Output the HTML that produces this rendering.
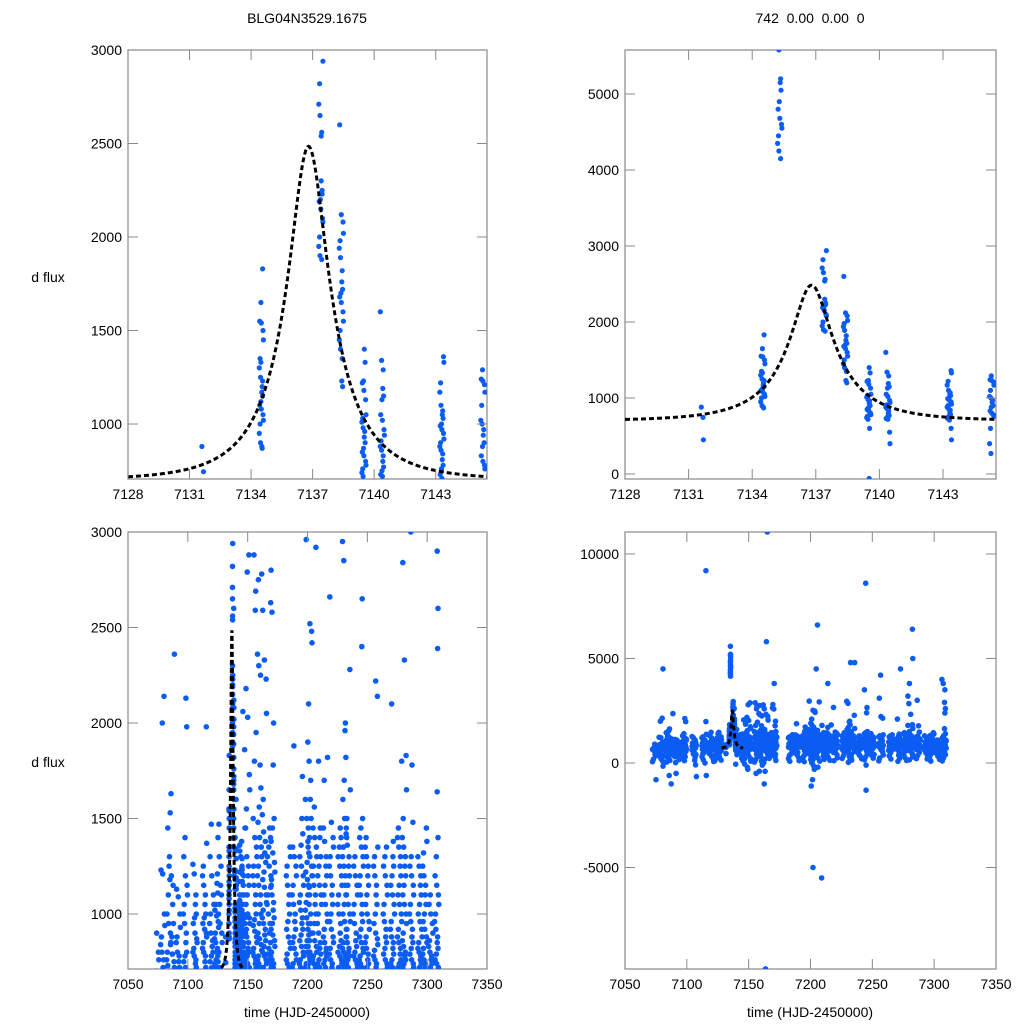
<!DOCTYPE html>
<html><head><meta charset="utf-8">
<style>
html,body{margin:0;padding:0;background:#fff;width:1024px;height:1024px;overflow:hidden;}
svg{display:block;font-family:"Liberation Sans",sans-serif;}
</style></head>
<body>
<svg id="fig" width="1024" height="1024" viewBox="0 0 1024 1024" xmlns="http://www.w3.org/2000/svg">
<text x="307" y="23" font-size="14" text-anchor="middle">BLG04N3529.1675</text>
<text x="810" y="23" font-size="14" text-anchor="middle" xml:space="preserve">742  0.00  0.00  0</text>
<text x="48" y="282" font-size="14" text-anchor="middle">d flux</text>
<text x="48" y="767" font-size="14" text-anchor="middle">d flux</text>
<text x="307" y="1017" font-size="14" text-anchor="middle">time (HJD-2450000)</text>
<text x="810" y="1017" font-size="14" text-anchor="middle">time (HJD-2450000)</text>
</svg>
<script>
// ---- event-window observations (night time, flux values) ----
const eventNightTimes = [7131.6, 7134.5, 7135.3, 7137.4, 7138.4, 7139.5, 7140.4, 7143.3, 7145.3];
const eventNightFlux = [
 "880 745 450",
 "1830 1650 1550 1540 1500 1450 1350 1300 1250 1200 1170 1150 1120 1100 1080 1050 1020 1000 950 900 870 880 1230 1330",
 "5580 5200 5150 5050 4900 4800 4680 4600 4550 4450 4350 4250 4150",
 "2940 2820 2710 2650 2560 2540 2250 2200 2190 2150 2100 2080 2000 1950 1900 1880 2300 2230",
 "2600 2120 2080 2020 1980 1940 1890 1820 1760 1720 1700 1680 1650 1600 1550 1500 1450 1400 1350 1230 1200",
 "1400 1330 1230 1220 1180 1130 1050 1030 1010 980 960 930 900 870 850 830 800 780 760 740 720 600 -60",
 "1600 1340 1290 1190 1150 1130 1050 1020 970 940 910 880 860 830 800 770 750 730 720 550 400",
 "1360 1330 1220 1170 1100 1070 1050 1030 1000 990 970 950 920 900 880 860 840 810 780 760 730 710 600 450",
 "1290 1240 1230 1210 1170 1100 1020 1000 970 940 900 880 830 800 780 760 600 400 270"
];
// ---- full-season observations ----
const seasonNightTimes = [7074,7079,7084,7087,7092,7098,7106,7114,7120,7124,7127,7146,7150,7156,7160,7164,7168,7171,7184,7189,7195,7200,7202,7206,7210,7215,7220,7227,7231,7234,7240,7245,7250,7257,7265,7271,7277,7281,7287,7294,7298,7303,7308];
const seasonNightFlux = [
 "900 800 760 700 650 600 500 400 -800",
 "2140 2000 1230 1210 1000 940 880 840 800 760 720 650 600 550 450 300 4500",
 "1450 1300 1250 1180 1100 1000 950 900 850 800 760 730 700 650 600 500 400 300 200 -600",
 "2360 1630 1530 1200 1150 1050 950 880 840 790 750 720 680 600 500 400 -1000",
 "1130 1090 1000 930 880 850 800 780 750 720 700 650 600 550 500 450 300 -500",
 "2130 1980 1400 1300 1200 1150 1100 1050 1000 950 900 850 800 780 750 720 700 650 600 500 400 300",
 "1260 1210 1100 1050 1000 980 950 900 870 850 820 800 780 760 740 720 700 600 500 400 -650",
 "1980 1370 1250 1200 1150 1100 1050 1000 980 950 920 900 880 850 820 800 780 750 720 700 650 500 9200 -600",
 "1470 1300 1200 1100 1050 1000 950 900 860 830 800 780 750 720 700 650 550 450",
 "1210 1160 1110 1050 1020 990 960 930 900 870 850 820 800 780 760 740 720 700 600 400",
 "1470 1400 1300 1250 1150 1100 1050 1000 950 900 850 800 750 720 700 650 600 500",
 "2060 1860 1450 1380 1300 1250 1200 1150 1100 1050 1020 1000 980 950 920 900 880 850 830 800 780 760 740 720 700 650 600 500 200",
 "2880 2790 2180 2030 1730 1650 1550 1450 1300 1250 1200 1150 1100 1050 1000 980 950 920 900 880 850 820 800 780 760 740 720 700 600 500 -300",
 "2880 2690 2590 1950 1800 1500 1400 1350 1300 1250 1200 1150 1100 1050 1000 970 940 910 880 850 820 800 780 760 740 720 700 650 -500",
 "2780 2750 2360 2300 2250 1780 1660 1560 1480 1400 1350 1300 1250 1200 1150 1100 1050 1000 950 900 870 840 810 780 760 740 720 700 600 400 -400",
 "2590 2330 2230 2050 1600 1520 1430 1380 1320 1270 1220 1180 1140 1100 1060 1020 980 950 920 890 860 830 800 780 760 740 720 700 650 550 5800 11050 -9850 -1000",
 "1450 1400 1350 1300 1250 1200 1150 1100 1050 1000 950 900 850 820 790 760 740 720 700 650",
 "2630 2580 2000 1780 1500 1450 1380 1320 1270 1220 1180 1140 1100 1060 1020 980 950 920 890 860 830 800 780 760 740 720 700 3800 2800",
 "1350 1300 1250 1200 1150 1100 1050 1000 960 920 880 850 820 790 760 740 720 700 600 400",
 "1880 1350 1300 1250 1200 1150 1100 1050 1000 960 920 880 850 820 790 760 740 720 700 500",
 "1720 1500 1420 1360 1300 1250 1200 1150 1100 1060 1020 980 950 920 890 860 830 800 780 760 740 720 700 600 450",
 "2960 1600 1500 1450 1380 1320 1270 1220 1180 1140 1100 1060 1020 980 950 920 890 860 830 800 780 760 740 720 700 650 550 300",
 "2520 2480 2420 2100 1900 1800 1700 1600 1500 1400 1350 1300 1250 1200 1150 1100 1050 1000 950 900 860 830 800 780 760 740 720 700 500 200 -300 -800 -1100 -5000",
 "2920 1560 1450 1400 1350 1300 1250 1200 1150 1100 1050 1000 950 900 860 830 800 780 760 740 720 700 600 6600 4500 -200",
 "1800 1450 1400 1300 1250 1200 1150 1100 1050 1000 950 900 850 820 790 760 740 720 700 400 -5500",
 "1820 1700 1450 1380 1300 1250 1200 1150 1100 1050 1000 960 920 880 850 820 800 780 760 740 720 700 600 3800",
 "2660 1480 1400 1350 1300 1250 1200 1150 1100 1050 1000 960 920 880 850 820 790 760 740 720 700 650 500",
 "1450 1400 1350 1300 1250 1200 1150 1100 1050 1000 950 900 860 830 800 780 760 740 720 700 600",
 "2950 2850 2000 1960 1820 1700 1600 1500 1450 1400 1350 1300 1250 1200 1150 1100 1050 1000 960 920 880 850 820 800 780 760 740 720 700 500 4800",
 "2280 1650 1500 1420 1360 1300 1250 1200 1150 1100 1050 1000 960 920 880 850 820 800 780 760 740 720 700 4800 300",
 "1300 1250 1200 1150 1100 1050 1000 950 900 860 830 800 780 760 740 720 700 600 400",
 "2650 2400 1500 1450 1400 1350 1300 1250 1200 1150 1100 1050 1000 960 920 880 850 820 800 780 760 740 720 700 550 8600 3500 -1300",
 "1400 1350 1300 1250 1200 1150 1100 1050 1000 960 920 880 850 820 790 760 740 720 700 650 400",
 "2220 2140 1350 1300 1250 1200 1150 1100 1050 1000 950 900 870 840 810 780 760 740 720 700 4200 3100",
 "1350 1300 1250 1200 1150 1100 1050 1000 960 920 880 850 820 790 760 740 720 700 600",
 "2100 1380 1300 1250 1200 1150 1100 1050 1000 960 920 880 850 820 790 760 740 720 700 4500",
 "1800 1450 1400 1350 1300 1250 1200 1150 1100 1050 1000 960 920 880 850 820 790 760 740 720 700 600 3200",
 "2840 2330 1830 1650 1500 1400 1350 1300 1250 1200 1150 1100 1050 1000 950 900 860 830 800 780 760 740 720 700 6400 5000 3800",
 "1780 1480 1300 1250 1200 1150 1100 1050 1000 960 920 880 850 820 790 760 740 720 700 650 3000",
 "1300 1250 1200 1150 1100 1050 1000 960 920 880 850 820 800 780 760 740 720 700 500",
 "1450 1380 1320 1250 1200 1150 1100 1050 1000 960 920 880 850 820 790 760 740 720 700 600",
 "1100 1050 1000 950 900 860 830 800 780 760 740 720 700 650 600 400",
 "2390 1640 1400 1300 1200 1150 1100 1050 1000 960 920 880 850 820 790 760 740 720 700 600 4000 3800 3500 2900 2600"
];
// faint-side measurements per night (below the zoomed window, visible in full range)
const seasonLowFlux = [
 "620 480 350 180 60", "640 520 380 210 90 -150", "600 450 330 150 40", "660 510 290 120",
 "630 470 310 160 20", "650 540 420 260 110", "610 430 270 130 -90", "640 560 440 300 150 0",
 "620 470 320 190 70", "650 520 380 220 100", "600 460 300 140", "660 580 470 350 230 110 -50",
 "650 560 460 340 220 90 -200", "640 540 420 300 170 40", "660 570 450 330 210 80 -100", "650 550 430 310 180 20 -400",
 "620 500 360 220", "640 540 410 270 120", "630 490 360 210 80", "650 530 400 260 110",
 "660 570 460 340 200 60", "650 540 420 290 150 0", "660 560 440 320 180 40 -150", "640 520 380 240 90",
 "620 480 330 170", "650 540 410 270 130", "640 520 390 250 110", "630 500 360 220",
 "660 560 440 310 170 30", "650 540 410 280 140", "620 490 350 200", "660 570 440 300 150 -100",
 "630 500 370 230", "640 520 380 240 100", "620 480 340 190", "640 510 370 220 80",
 "650 530 400 260 120", "660 560 430 290 150", "630 500 360 210", "620 480 340 190",
 "640 510 380 230 90", "610 470 320 170", "650 530 400 250 100"
];
// ---- microlensing fit parameters ----
const fitT0 = [7136.8];
const fitTE = [3.3];
const fitU0 = [0.3];
const fitBase = [700];
const fitFs = [730];
const fitRange = [7128, 7145.5];
// ---- tick labels ----
const topXTicks = [7128, 7131, 7134, 7137, 7140, 7143];
const topLeftYTicks = [1000, 1500, 2000, 2500, 3000];
const topRightYTicks = [0, 1000, 2000, 3000, 4000, 5000];
const botXTicks = [7050, 7100, 7150, 7200, 7250, 7300, 7350];
const botLeftYTicks = [1000, 1500, 2000, 2500, 3000];
const botRightYTicks = [-5000, 0, 5000, 10000];

const NS = "http://www.w3.org/2000/svg";
const svg = document.getElementById('fig');
function mk(tag, attrs, parent) {
  const e = document.createElementNS(NS, tag);
  for (const k in attrs) e.setAttribute(k, attrs[k]);
  (parent || svg).appendChild(e);
  return e;
}
const jit = [0, 3, -2, 5, -4, 1, -5, 4, -1, 2, -3];
function expand(times, fluxes, wide) {
  const pts = [];
  times.forEach((t, i) => {
    fluxes[i].trim().split(/\s+/).map(Number).forEach((f, j) => {
      pts.push([t + jit[(j * 7 + i) % 11] * (wide ? 0.35 : 0.02), f]);
    });
  });
  return pts;
}
const eventPts = expand(eventNightTimes, eventNightFlux, false);
const seasonPts = expand(seasonNightTimes, seasonNightFlux, true)
  .concat(expand(seasonNightTimes, seasonLowFlux, true)).concat(eventPts);

function model(t) {
  const d = (t - fitT0[0]) / fitTE[0];
  const u = Math.sqrt(fitU0[0] * fitU0[0] + d * d);
  const A = (u * u + 2) / (u * Math.sqrt(u * u + 4));
  return fitBase[0] + fitFs[0] * (A - 1);
}

function panel(name, box, xr, yr, xt, yt, pts, r) {
  const [x0, y0, x1, y1] = box;
  const sx = v => x0 + (v - xr[0]) / (xr[1] - xr[0]) * (x1 - x0);
  const sy = v => y1 - (v - yr[0]) / (yr[1] - yr[0]) * (y1 - y0);
  const g = mk('g', {});
  
  
  const cp = mk('clipPath', {id: name + '-clip'}, g);
  mk('rect', {x: x0, y: y0, width: x1 - x0, height: y1 - y0}, cp);
  const frame = mk('rect', {x: x0, y: y0, width: x1 - x0, height: y1 - y0, fill: 'none', stroke: '#888', 'stroke-width': 1.2}, g);
  
  
  const pg = mk('g', {'clip-path': 'url(#' + name + '-clip)'}, g);
  pts.forEach(p => {
    const c = mk('circle', {cx: sx(p[0]).toFixed(1), cy: sy(p[1]).toFixed(1), r: r, fill: '#0b5cf2'}, pg);
    
    
  });
  let d = '';
  for (let t = fitRange[0]; t <= fitRange[1] + 1e-9; t += 0.05) {
    d += (d ? 'L' : 'M') + sx(t).toFixed(2) + ',' + sy(model(t)).toFixed(2);
  }
  const path = mk('path', {d: d, fill: 'none', stroke: '#000', 'stroke-width': 3, 'stroke-dasharray': '5,3'}, pg);
  
  
  xt.forEach(v => {
    const x = sx(v);
    mk('line', {x1: x, y1: y1, x2: x, y2: y1 - 10, stroke: '#888'}, g);
    mk('line', {x1: x, y1: y0, x2: x, y2: y0 + 10, stroke: '#888'}, g);
    const tx = mk('text', {x: x, y: y1 + 20, 'font-size': 14, 'text-anchor': 'middle'}, g);
    tx.textContent = v;
    
    
  });
  yt.forEach(v => {
    const y = sy(v);
    mk('line', {x1: x0, y1: y, x2: x0 + 10, y2: y, stroke: '#888'}, g);
    mk('line', {x1: x1, y1: y, x2: x1 - 10, y2: y, stroke: '#888'}, g);
    const ty = mk('text', {x: x0 - 6, y: y + 5, 'font-size': 14, 'text-anchor': 'end'}, g);
    ty.textContent = v;
    
    
  });
}
panel('top-left-panel', [128, 50, 487, 479], [7128, 7145.5], [706, 3000], topXTicks, topLeftYTicks, eventPts, 2.6);
panel('top-right-panel', [625, 50, 996, 479], [7128, 7145.5], [-66, 5579], topXTicks, topRightYTicks, eventPts, 2.6);
panel('bottom-left-panel', [128, 532, 487, 969], [7050, 7350], [712, 3000], botXTicks, botLeftYTicks, seasonPts, 2.8);
panel('bottom-right-panel', [625, 532, 996, 969], [7050, 7350], [-9856, 11050], botXTicks, botRightYTicks, seasonPts, 2.8);
</script>
</body></html>
